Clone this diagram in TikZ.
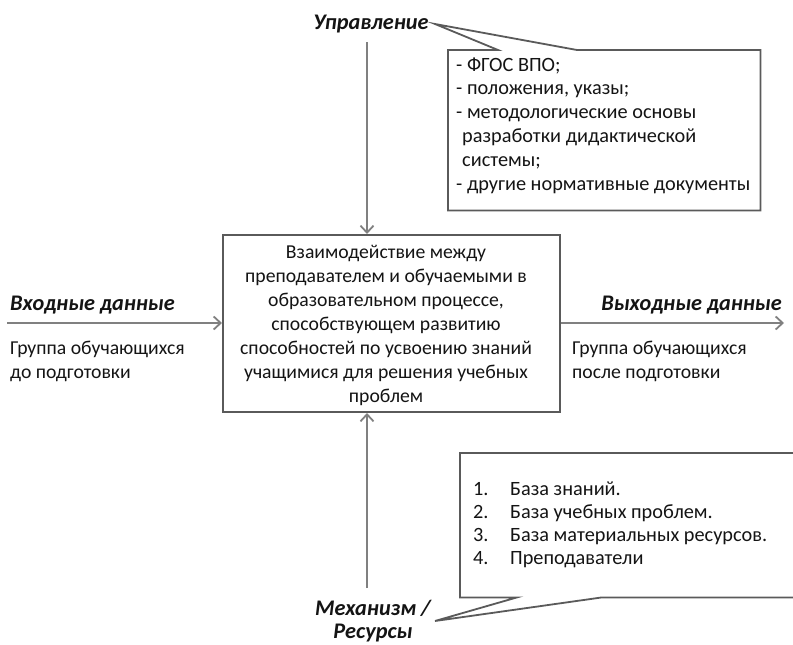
\documentclass[tikz,border=0pt]{standalone}
\usepackage{fontspec}
\setmainfont{Carlito}
\usetikzlibrary{arrows.meta,calc}

\definecolor{linegray}{RGB}{128,128,128}
\definecolor{boxgray}{RGB}{90,90,90}
\definecolor{ink}{RGB}{20,20,20}

\begin{document}
\begin{tikzpicture}[x=1pt,y=-1pt,
  every node/.style={text=ink, font=\fontsize{19.7}{24}\selectfont},
  flow/.style={draw=linegray, line width=2.2pt,
    -{Straight Barb[length=7pt,width=13pt,line width=1.8pt]}},
  procbox/.style={draw=boxgray, line width=2pt, fill=white,
    minimum width=337pt, minimum height=177pt, inner sep=0pt},
  calloutbox/.style={inner sep=0pt, anchor=north west},
  callline/.style={draw=boxgray, line width=1.8pt, line join=miter},
  heading/.style={font=\fontsize{22.3}{24}\selectfont\bfseries\itshape, inner sep=0pt},
  plain/.style={inner sep=0pt, align=left},
  note/.style={inner sep=0pt, align=left, font=\fontsize{20.3}{23.8}\selectfont}
]
\useasboundingbox (0,0) rectangle (793,645);

% central activity box and its description
\node[procbox] (proc) at (391.5,323.5) {};
\node[plain, align=center, anchor=base] (procText) at (386,402)
  {Взаимодействие между\\
   преподавателем и обучаемыми в\\
   образовательном процессе,\\
   способствующем развитию\\
   способностей по усвоению знаний\\
   учащимися для решения учебных\\
   проблем};

% control
\node[heading, anchor=base] (ctrl) at (371,29) {Управление};
\coordinate (ctrlStart) at (367,42);
\draw[flow] (ctrlStart) -- (ctrlStart |- proc.north);

% control callout
\coordinate (tipA) at (435,24);
\node[calloutbox, minimum width=312pt, minimum height=160pt] (notesA) at (448,50) {};
\node[note, anchor=base west] (notesAtext) at (456,190)
  {- ФГОС ВПО;\\
   - положения, указы;\\
   - методологические основы\\
   \hspace*{6pt}разработки дидактической\\
   \hspace*{6pt}системы;\\
   - другие нормативные документы};
\draw[callline] (notesA.north west) -- ($(notesA.north west)+(50,0)$) -- (tipA)
  -- ($(notesA.north west)+(129,0)$) -- (notesA.north east)
  -- (notesA.south east) -- (notesA.south west) -- cycle;

% input
\node[heading, anchor=base west] (inHead) at (10,310) {Входные данные};
\coordinate (inStart) at (7,323);
\draw[flow] (inStart) -- (inStart -| proc.west);
\node[plain, anchor=base west] (inText) at (10,378)
  {Группа обучающихся\\до подготовки};

% output
\node[heading, anchor=base east] (outHead) at (782,310) {Выходные данные};
\coordinate (outEnd) at (784,323);
\draw[flow] (outEnd -| proc.east) -- (outEnd);
\node[plain, anchor=base west] (outText) at (572,378)
  {Группа обучающихся\\после подготовки};

% mechanism
\node[heading, anchor=base, align=center, font=\fontsize{22.3}{23}\selectfont\bfseries\itshape]
  (mech) at (373,638) {Механизм /\\Ресурсы};
\coordinate (mechStart) at (367,588);
\draw[flow] (mechStart) -- (mechStart |- proc.south);

% mechanism callout
\coordinate (tipB) at (435,621);
\node[calloutbox, minimum width=336pt, minimum height=144pt] (notesB) at (460,453) {};
\node[note, anchor=base west, font=\fontsize{20.3}{22.7}\selectfont] (notesBtext) at (473,564)
  {\begin{tabular}[b]{@{}p{37pt}@{}l@{}}
   1. & База знаний.\\
   2. & База учебных проблем.\\
   3. & База материальных ресурсов.\\
   4. & Преподаватели
   \end{tabular}};
\draw[callline] (notesB.north west) -- (notesB.north east)
  -- (notesB.south east) -- ($(notesB.south west)+(142,0)$) -- (tipB)
  -- ($(notesB.south west)+(57,0)$) -- (notesB.south west) -- cycle;
\end{tikzpicture}
\end{document}
